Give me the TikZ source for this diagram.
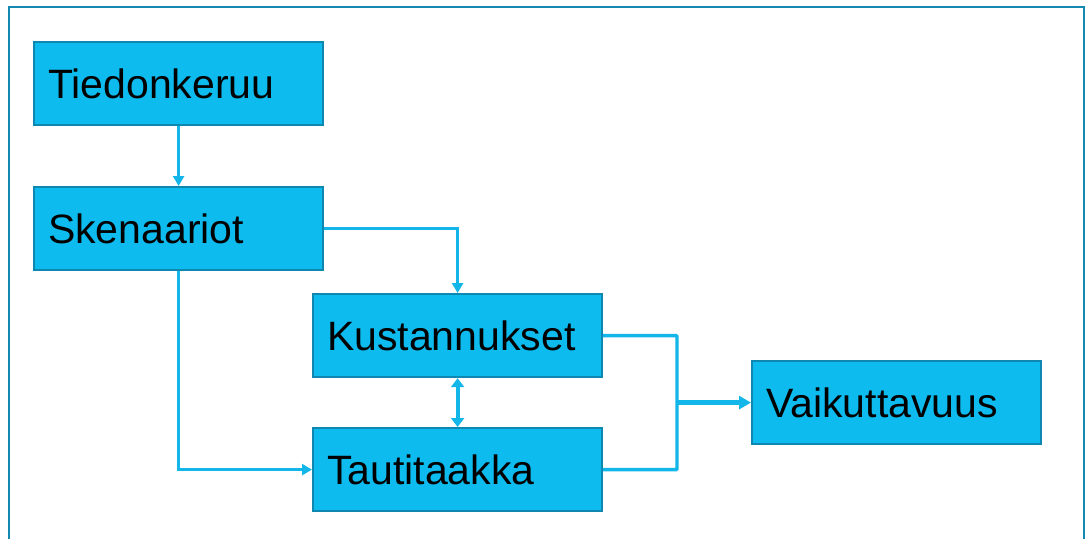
\documentclass[tikz,border=0pt]{standalone}
\usepackage{fontspec}
\setmainfont{Liberation Sans}
\usetikzlibrary{arrows.meta}
\definecolor{boxfill}{HTML}{0DBBEE}
\definecolor{boxline}{HTML}{0E88B0}
\definecolor{connc}{HTML}{12B6E8}
\definecolor{framec}{HTML}{1389B1}
\tikzset{
  stepbox/.style={rectangle, draw=boxline, fill=boxfill, line width=2.2pt,
    minimum width=289pt, minimum height=83pt, text width=261pt, inner xsep=14pt,
    align=left, text height=29.5pt, text depth=0pt,
    font=\fontsize{41}{49}\selectfont, anchor=north west},
  conn/.style={draw=connc, line width=3.4pt, -{Triangle[length=10pt,width=11pt]}},
  connline/.style={draw=connc, line width=3.4pt},
  bigconn/.style={draw=connc, line width=5pt, -{Triangle[length=12pt,width=13pt]}}
}
\begin{document}
\begin{tikzpicture}[x=1pt,y=-1pt]
\useasboundingbox (0,0) rectangle (1085,539);
\draw[framec, line width=2.5pt] (9,539) -- (9,7) -- (1084,7) -- (1084,539);
\node[stepbox] (tied) at (33,41) {Tiedonkeruu};
\node[stepbox] (sken) at (33,186) {Skenaariot};
\node[stepbox] (kust) at (312,293) {Kustannukset};
\node[stepbox] (taut) at (312,427) {Tautitaakka};
\node[stepbox] (vaik) at (751,360) {Vaikuttavuus};
\coordinate (j) at (677,402);
\draw[conn] (tied.south) -- (sken.north);
\draw[conn] (sken.east) -| (kust.north);
\draw[conn] (sken.south) |- (taut.west);
\draw[draw=connc, line width=4pt, {Triangle[length=9pt,width=13pt]}-{Triangle[length=9pt,width=13pt]}] (kust.south) -- (taut.north);
\draw[connline, rounded corners=1pt] (kust.east) -- (kust.east -| j) -- (taut.east -| j) -- (taut.east);
\draw[bigconn] (j |- vaik.west) -- (vaik.west);
\end{tikzpicture}
\end{document}
